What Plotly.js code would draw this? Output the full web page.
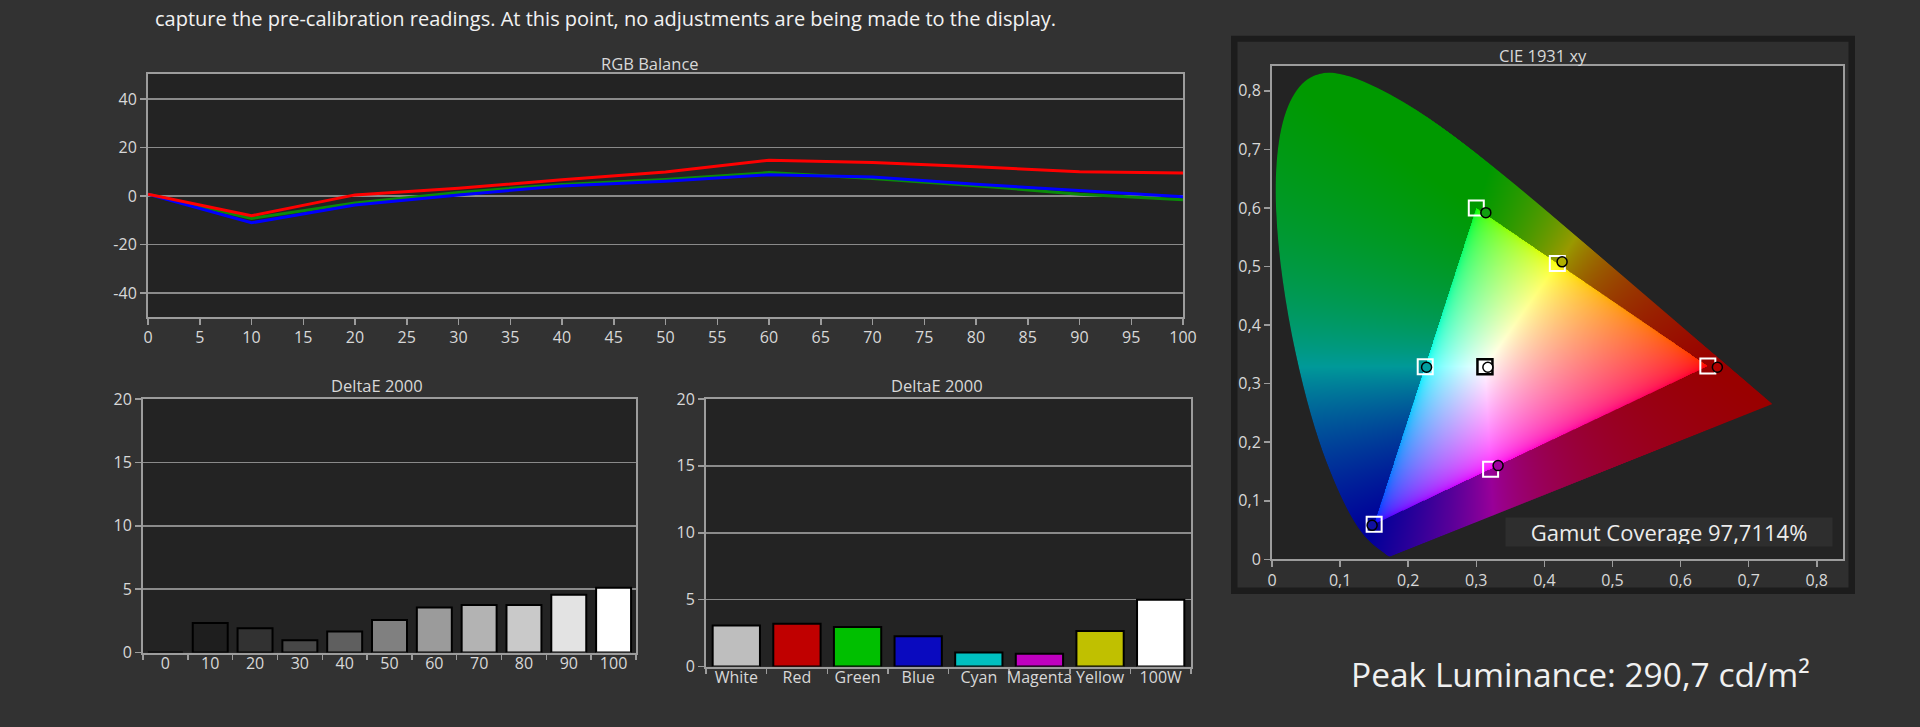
<!DOCTYPE html>
<html>
<head>
<meta charset="utf-8">
<script src="https://cdn.plot.ly/plotly-3.0.1.min.js"></script>
<style>
  html, body { margin: 0; padding: 0; background: #323232; }
  #chart { width: 1920px; height: 727px; }
</style>
</head>
<body>
<div id="chart"></div>
<script>
// ---------------- DATA ----------------
const headerText = "capture the pre-calibration readings. At this point, no adjustments are being made to the display.";
const peakText = "Peak Luminance: 290,7 cd/m²";
const gamutText = "Gamut Coverage 97,7114%";

// RGB Balance
const rgbLevels = [0, 10, 20, 30, 40, 50, 60, 70, 80, 90, 100];
const rgbRed    = [0.8, -8.1, 0.5, 3.2, 6.7, 9.9, 14.8, 13.8, 12.1, 10.0, 9.5];
const rgbGreen  = [0.8, -9.2, -2.8, 1.5, 4.8, 6.8, 9.7, 7.2, 4.3, 0.8, -1.5];
const rgbBlue   = [0.8, -11.0, -3.7, 0.5, 4.2, 6.1, 8.8, 7.9, 4.9, 2.3, -0.3];
const rgbXTicks = [0,5,10,15,20,25,30,35,40,45,50,55,60,65,70,75,80,85,90,95,100];

// DeltaE 2000 – greyscale
const grayLevels = ["0","10","20","30","40","50","60","70","80","90","100"];
const grayDE     = [0, 2.32, 1.92, 0.96, 1.65, 2.56, 3.56, 3.75, 3.75, 4.55, 5.1];
const grayColors = ["#000000","#1e1e1e","#323232","#474747","#5f5f5f","#808080","#9b9b9b","#b3b3b3","#c9c9c9","#e3e3e3","#ffffff"];

// DeltaE 2000 – colours
const colorNames  = ["White","Red","Green","Blue","Cyan","Magenta","Yellow","100W"];
const colorDE     = [3.07, 3.2, 2.95, 2.27, 1.05, 0.95, 2.65, 5.0];
const colorFills  = ["#bebebe","#c00000","#00bf00","#0a0abf","#00c0c0","#c000c0","#c0c000","#ffffff"];

// CIE 1931 xy
const cieNames   = ["Red","Green","Blue","Cyan","Magenta","Yellow","White"];
const targetX    = [0.640, 0.300, 0.150, 0.225, 0.321, 0.419, 0.3127];
const targetY    = [0.330, 0.600, 0.060, 0.329, 0.154, 0.505, 0.329];
const measX      = [0.654, 0.314, 0.147, 0.227, 0.332, 0.426, 0.317];
const measY      = [0.328, 0.592, 0.058, 0.328, 0.160, 0.508, 0.328];
const measColors = ["#b00000","#10a010","#1010a0","#00a0a0","#a000a0","#b0b000","#ffffff"];
const cieTickVals   = [0, 0.1, 0.2, 0.3, 0.4, 0.5, 0.6, 0.7, 0.8];
const cieTickLabels = ["0","0,1","0,2","0,3","0,4","0,5","0,6","0,7","0,8"];

// CIE 1931 2° spectral locus, 380–700 nm, 5 nm steps
const locusX = [0.1741,0.1740,0.1738,0.1736,0.1733,0.1730,0.1726,0.1721,0.1714,0.1703,0.1689,0.1669,0.1644,0.1611,0.1566,0.1510,0.1440,0.1355,0.1241,0.1096,0.0913,0.0687,0.0454,0.0235,0.0082,0.0039,0.0139,0.0389,0.0743,0.1142,0.1547,0.1929,0.2296,0.2658,0.3016,0.3373,0.3731,0.4087,0.4441,0.4788,0.5125,0.5448,0.5752,0.6029,0.6270,0.6482,0.6658,0.6801,0.6915,0.7006,0.7079,0.7140,0.7190,0.7230,0.7260,0.7283,0.7300,0.7311,0.7320,0.7327,0.7334,0.7340,0.7344,0.7346,0.7347];
const locusY = [0.0050,0.0050,0.0049,0.0049,0.0048,0.0048,0.0048,0.0048,0.0051,0.0058,0.0069,0.0086,0.0109,0.0138,0.0177,0.0227,0.0297,0.0399,0.0578,0.0868,0.1327,0.2007,0.2950,0.4127,0.5384,0.6548,0.7502,0.8120,0.8338,0.8262,0.8059,0.7816,0.7543,0.7243,0.6923,0.6589,0.6245,0.5896,0.5547,0.5202,0.4866,0.4544,0.4242,0.3965,0.3725,0.3514,0.3340,0.3197,0.3083,0.2993,0.2920,0.2859,0.2809,0.2770,0.2740,0.2717,0.2700,0.2689,0.2680,0.2673,0.2666,0.2660,0.2656,0.2654,0.2653];

// ---------------- HELPERS ----------------
const FW = 1920, FH = 727;
const px = v => v / FW;
const py = v => 1 - v / FH;
const FONT = "Open Sans, Noto Sans, sans-serif";
const TICK = 16, TITLE = 16.5;

// gamut background image rendered on a canvas, positioned by the CIE axes
function gamutImage(x1, y1) {
  const W = 1020, H = 1000;
  const off = document.createElement('canvas'); off.width = W; off.height = H;
  const octx = off.getContext('2d');
  const img = octx.createImageData(W, H); const d = img.data;
  const R = [targetX[0], targetY[0]], G = [targetX[1], targetY[1]], B = [targetX[2], targetY[2]];
  const side = (a, b, x, y) => (b[0]-a[0])*(y-a[1]) - (b[1]-a[1])*(x-a[0]);
  const gam = c => c <= 0.0031308 ? 12.92*c : 1.055*Math.pow(c, 1/2.4) - 0.055;
  for (let j = 0; j < H; j++) {
    const cy = y1 - (j + 0.5) / H * y1;
    if (cy <= 0.0004) continue;
    for (let i = 0; i < W; i++) {
      const cx = (i + 0.5) / W * x1;
      const X = cx / cy, Z = (1 - cx - cy) / cy;
      let r = 3.2406*X - 1.5372 - 0.4986*Z;
      let g = -0.9689*X + 1.8758 + 0.0415*Z;
      let b = 0.0557*X - 0.2040 + 1.0570*Z;
      r = Math.max(r, 0); g = Math.max(g, 0); b = Math.max(b, 0);
      const m = Math.max(r, g, b); if (m <= 0) continue;
      r /= m; g /= m; b /= m;
      const s1 = side(R, G, cx, cy), s2 = side(G, B, cx, cy), s3 = side(B, R, cx, cy);
      const inside = (s1 >= 0 && s2 >= 0 && s3 >= 0) || (s1 <= 0 && s2 <= 0 && s3 <= 0);
      const idx = (j * W + i) * 4;
      if (inside) {
        d[idx] = 255 * gam(r); d[idx+1] = 255 * gam(g); d[idx+2] = 255 * gam(b);
      } else {
        d[idx] = 153 * r; d[idx+1] = 153 * g; d[idx+2] = 153 * b;
      }
      d[idx+3] = 255;
    }
  }
  octx.putImageData(img, 0, 0);
  const cv = document.createElement('canvas'); cv.width = W; cv.height = H;
  const ctx = cv.getContext('2d');
  const P = locusX.map((x, i) => [x / x1 * W, (y1 - locusY[i]) / y1 * H]);
  ctx.beginPath();
  ctx.moveTo(P[0][0], P[0][1]);
  for (let i = 1; i < P.length - 1; i++) {
    const mx = (P[i][0] + P[i+1][0]) / 2, my = (P[i][1] + P[i+1][1]) / 2;
    ctx.quadraticCurveTo(P[i][0], P[i][1], mx, my);
  }
  ctx.lineTo(P[P.length-1][0], P[P.length-1][1]);
  ctx.closePath();
  ctx.clip();
  ctx.drawImage(off, 0, 0);
  return cv.toDataURL('image/png');
}

// ---------------- GEOMETRY (px) ----------------
const D1 = {l:148, r:1183, t:73.5, b:317};    // RGB balance
const D2 = {l:143, r:636, t:399, b:652.5};    // DeltaE greyscale
const D3 = {l:706, r:1191, t:399, b:666.5};   // DeltaE colours
const D4 = {l:1272, r:1843, t:65.7, b:559.3}; // CIE

const axisBase = {
  showline: true, linecolor: '#9c9c9c', linewidth: 2, mirror: true,
  ticks: 'outside', tickcolor: '#9c9c9c', ticklen: 6, tickwidth: 1.5,
  gridcolor: '#8a8a8a', gridwidth: 1.5, zeroline: false, fixedrange: true,
  tickfont: {family: FONT, size: TICK, color: '#d8d8d8'}
};
const ax = (o) => Object.assign({}, axisBase, o);

// ---------------- TRACES ----------------
const traces = [
  {x: rgbLevels, y: rgbGreen, type: 'scatter', mode: 'lines', line: {color: '#0a8a0a', width: 3}, xaxis: 'x', yaxis: 'y', hoverinfo: 'skip'},
  {x: rgbLevels, y: rgbBlue,  type: 'scatter', mode: 'lines', line: {color: '#0000ff', width: 3}, xaxis: 'x', yaxis: 'y', hoverinfo: 'skip'},
  {x: rgbLevels, y: rgbRed,   type: 'scatter', mode: 'lines', line: {color: '#ff0000', width: 3}, xaxis: 'x', yaxis: 'y', hoverinfo: 'skip'},

  {x: grayLevels, y: grayDE, type: 'bar', width: 0.78, marker: {color: grayColors, line: {color: '#000000', width: 2}}, xaxis: 'x2', yaxis: 'y2', hoverinfo: 'skip'},

  {x: colorNames, y: colorDE, type: 'bar', width: 0.78, marker: {color: colorFills, line: {color: '#000000', width: 2}}, xaxis: 'x3', yaxis: 'y3', hoverinfo: 'skip'},

  {x: targetX.slice(0, 6), y: targetY.slice(0, 6), type: 'scatter', mode: 'markers', xaxis: 'x4', yaxis: 'y4', hoverinfo: 'skip',
   marker: {symbol: 'square-open', size: 15, color: '#ffffff', line: {width: 2, color: '#ffffff'}}},
  {x: targetX.slice(6), y: targetY.slice(6), type: 'scatter', mode: 'markers', xaxis: 'x4', yaxis: 'y4', hoverinfo: 'skip',
   marker: {symbol: 'square', size: 15, color: '#ffffff', line: {width: 2.5, color: '#000000'}}},
  {x: measX, y: measY, type: 'scatter', mode: 'markers', xaxis: 'x4', yaxis: 'y4', hoverinfo: 'skip',
   marker: {symbol: 'circle', size: 10, color: measColors, line: {width: 1.5, color: '#000000'}}}
];

// ---------------- LAYOUT ----------------
const bgRect = (D) => ({type: 'rect', xref: 'paper', yref: 'paper', layer: 'below',
  x0: px(D.l), x1: px(D.r), y0: py(D.b), y1: py(D.t), fillcolor: '#232323', line: {width: 0}});
const catFont = {family: FONT, size: 16, color: '#d8d8d8'};

const layout = {
  width: FW, height: FH,
  margin: {l: 0, r: 0, t: 0, b: 0, pad: 0},
  paper_bgcolor: '#323232', plot_bgcolor: 'rgba(0,0,0,0)',
  showlegend: false,
  font: {family: FONT, color: '#d8d8d8'},

  xaxis:  ax({domain: [px(D1.l), px(D1.r)], anchor: 'y',  range: [0, 100], tickvals: rgbXTicks, showgrid: false, ticklabelstandoff: -1}),
  yaxis:  ax({domain: [py(D1.b), py(D1.t)], anchor: 'x',  range: [-49.8, 50.5], tickvals: [-40, -20, 0, 20, 40], ticktext: ['-40','-20','0','20','40']}),

  xaxis2: ax({domain: [px(D2.l), px(D2.r)], anchor: 'y2', type: 'category', tickson: 'boundaries', showgrid: false, ticklen: 5, tickangle: 0, ticklabelstandoff: -5, tickfont: catFont}),
  yaxis2: ax({domain: [py(D2.b), py(D2.t)], anchor: 'x2', range: [0, 20], dtick: 5}),

  xaxis3: ax({domain: [px(D3.l), px(D3.r)], anchor: 'y3', type: 'category', tickson: 'boundaries', showgrid: false, ticklen: 5, tickangle: 0, ticklabelstandoff: -5, tickfont: catFont}),
  yaxis3: ax({domain: [py(D3.b), py(D3.t)], anchor: 'x3', range: [0, 20], dtick: 5}),

  xaxis4: ax({domain: [px(D4.l), px(D4.r)], anchor: 'y4', range: [0, 0.8385], tickvals: cieTickVals, ticktext: cieTickLabels, showgrid: false, ticklabelstandoff: -1}),
  yaxis4: ax({domain: [py(D4.b), py(D4.t)], anchor: 'x4', range: [0, 0.843], tickvals: cieTickVals, ticktext: cieTickLabels, showgrid: false}),

  shapes: [
    {type: 'rect', xref: 'paper', yref: 'paper', layer: 'below', x0: px(1231), x1: px(1855), y0: py(594), y1: py(35.7), fillcolor: '#1c1c1c', line: {width: 0}},
    {type: 'rect', xref: 'paper', yref: 'paper', layer: 'below', x0: px(1237.5), x1: px(1848.5), y0: py(587.5), y1: py(41.7), fillcolor: '#2f2f2f', line: {width: 0}},
    bgRect(D1), bgRect(D2), bgRect(D3), bgRect(D4)
  ],

  annotations: [
    {text: headerText, xref: 'paper', yref: 'paper', x: px(153), y: py(18), xanchor: 'left', yanchor: 'middle', showarrow: false,
     font: {family: FONT, size: 20, color: '#f2f2f2'}},
    {text: 'RGB Balance', xref: 'paper', yref: 'paper', x: px(650), y: py(63.5), xanchor: 'center', yanchor: 'middle', showarrow: false,
     font: {family: FONT, size: TITLE, color: '#d8d8d8'}},
    {text: 'DeltaE 2000', xref: 'paper', yref: 'paper', x: px(377), y: py(385), xanchor: 'center', yanchor: 'middle', showarrow: false,
     font: {family: FONT, size: TITLE, color: '#d8d8d8'}},
    {text: 'DeltaE 2000', xref: 'paper', yref: 'paper', x: px(937), y: py(385), xanchor: 'center', yanchor: 'middle', showarrow: false,
     font: {family: FONT, size: TITLE, color: '#d8d8d8'}},
    {text: 'CIE 1931 xy', xref: 'paper', yref: 'paper', x: px(1543), y: py(55.5), xanchor: 'center', yanchor: 'middle', showarrow: false,
     font: {family: FONT, size: TITLE, color: '#d8d8d8'}},
    {text: gamutText, xref: 'paper', yref: 'paper', x: px(1668.6), y: py(532), xanchor: 'center', yanchor: 'middle', showarrow: false,
     width: 322, height: 24, bgcolor: '#2e2e2e', borderpad: 2,
     font: {family: FONT, size: 22, color: '#ececec'}},
    {text: peakText, xref: 'paper', yref: 'paper', x: px(1349), y: py(674), xanchor: 'left', yanchor: 'middle', showarrow: false,
     font: {family: FONT, size: 33.5, color: '#f0f0f0'}}
  ],

  images: [{
    source: gamutImage(0.75, 0.85), xref: 'x4', yref: 'y4', x: 0, y: 0.85, sizex: 0.75, sizey: 0.85,
    sizing: 'stretch', xanchor: 'left', yanchor: 'top', layer: 'below'
  }]
};

Plotly.newPlot('chart', traces, layout, {displayModeBar: false, staticPlot: true});
</script>
</body>
</html>
